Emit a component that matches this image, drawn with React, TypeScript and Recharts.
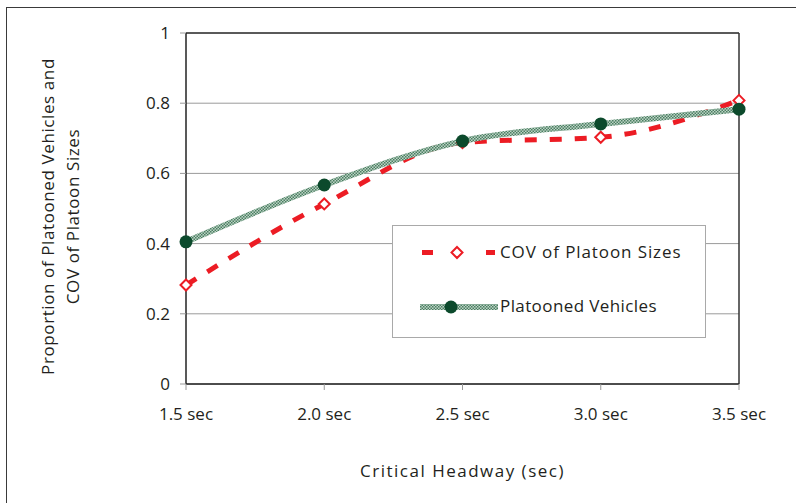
import React from "react"
import {
  LineChart,
  Line,
  XAxis,
  YAxis,
  CartesianGrid,
  Legend,
  ReferenceLine,
} from "recharts"

const headways = ["1.5 sec", "2.0 sec", "2.5 sec", "3.0 sec", "3.5 sec"]
const covPlatoonSizes = [0.282, 0.513, 0.688, 0.703, 0.808]
const platoonedVehicles = [0.405, 0.567, 0.692, 0.741, 0.783]
const yTicks = [0, 0.2, 0.4, 0.6, 0.8, 1]

const font = "'Open Sans', 'Noto Sans', sans-serif"
const textColor = "#231f20"
const red = "#ec1c24"
const darkGreen = "#0c4a2c"

const data = headways.map((h, i) => ({
  x: h,
  cov: covPlatoonSizes[i],
  platooned: platoonedVehicles[i],
}))

// hollow red diamond marker
const Diamond = (props: any) => {
  const { cx, cy } = props
  if (cx == null || cy == null) return null
  const s = 5.5
  return (
    <path
      d={`M${cx},${cy - s} L${cx + s},${cy} L${cx},${cy + s} L${cx - s},${cy} Z`}
      fill="#fff"
      stroke={red}
      strokeWidth={2}
    />
  )
}

const GreenDot = (props: any) => {
  const { cx, cy } = props
  if (cx == null || cy == null) return null
  return <circle cx={cx} cy={cy} r={6.5} fill={darkGreen} />
}

const HatchPattern = ({ id }: { id: string }) => (
  <pattern id={id} width="3" height="3" patternUnits="userSpaceOnUse">
    <rect width="3" height="3" fill="#bcd2c4" />
    <rect width="1.5" height="1.5" fill="#4a7f62" />
    <rect x="1.5" y="1.5" width="1.5" height="1.5" fill="#4a7f62" />
  </pattern>
)

const LegendBox = () => (
  <div
    style={{
      width: 314,
      height: 113,
      boxSizing: "border-box",
      border: "1px solid #a9a9a9",
      background: "#fff",
      fontFamily: font,
      fontSize: 17,
      color: textColor,
      position: "relative",
    }}
  >
    <svg width={80} height={20} style={{ position: "absolute", left: 27, top: 17 }}>
      <rect x={2} y={7} width={11} height={5} fill={red} />
      <path d="M37,4 L42.5,9.5 L37,15 L31.5,9.5 Z" fill="#fff" stroke={red} strokeWidth={2} />
      <rect x={66} y={7} width={9} height={5} fill={red} />
    </svg>
    <span style={{ position: "absolute", left: 107, top: 14, letterSpacing: 0.9 }}>
      COV of Platoon Sizes
    </span>
    <svg width={80} height={20} style={{ position: "absolute", left: 27, top: 71 }}>
      <defs>
        <HatchPattern id="hatchLegend" />
      </defs>
      <rect x={0} y={7} width={78} height={6} fill="url(#hatchLegend)" />
      <circle cx={31} cy={10} r={6.5} fill={darkGreen} />
    </svg>
    <span style={{ position: "absolute", left: 107, top: 68, letterSpacing: 0.4 }}>
      Platooned Vehicles
    </span>
  </div>
)

const YTitle = (props: any) => {
  const vb = props.viewBox
  const cy = vb.y + vb.height / 2 + 8
  return (
    <g fontFamily={font} fontSize={17} fill={textColor} textAnchor="middle" letterSpacing={0.6}>
      <text x={54} y={cy} transform={`rotate(-90, 54, ${cy})`}>
        Proportion of Platooned Vehicles and
      </text>
      <text x={79} y={cy} transform={`rotate(-90, 79, ${cy})`}>
        COV of Platoon Sizes
      </text>
    </g>
  )
}

const XTitle = (props: any) => {
  const vb = props.viewBox
  return (
    <text
      x={vb.x + vb.width / 2}
      y={477}
      fontFamily={font}
      fontSize={17}
      fill={textColor}
      textAnchor="middle"
      letterSpacing={1.5}
    >
      Critical Headway (sec)
    </text>
  )
}

export default function App() {
  return (
    <div style={{ position: "fixed", left: 0, top: 0, width: 796, height: 503, background: "#fff" }}>
      <div
        style={{
          position: "absolute",
          left: 6,
          top: 7,
          width: 800,
          height: 500,
          borderTop: "1.5px solid #3a3a3a",
          borderLeft: "1.5px solid #3a3a3a",
        }}
      />
      <LineChart
        width={796}
        height={503}
        data={data}
        margin={{ top: 33, right: 57, bottom: 89, left: 0 }}
        style={{ position: "absolute", left: 0, top: 0 }}
      >
        <defs>
          <HatchPattern id="hatch" />
        </defs>
        <CartesianGrid vertical={false} stroke="#9a9a9a" strokeWidth={1} />
        <XAxis
          dataKey="x"
          height={30}
          axisLine={{ stroke: "#222", strokeWidth: 1.5 }}
          tickLine={{ stroke: "#999" }}
          tickSize={6}
          tickMargin={18}
          tick={{ fontFamily: font, fontSize: 17, fill: textColor }}
          label={<XTitle />}
        />
        <YAxis
          width={186}
          domain={[0, 1]}
          ticks={yTicks}
          interval={0}
          axisLine={{ stroke: "#222", strokeWidth: 1.5 }}
          tickLine={{ stroke: "#999" }}
          tickSize={6}
          tickMargin={10}
          tick={{ fontFamily: font, fontSize: 17, fill: textColor }}
          label={<YTitle />}
        />
        <ReferenceLine y={1} stroke="#333" strokeWidth={1.5} />
        <ReferenceLine x="3.5 sec" stroke="#333" strokeWidth={1.5} />
        <Line
          dataKey="cov"
          type="monotone"
          stroke={red}
          strokeWidth={5}
          strokeDasharray="12 13"
          dot={<Diamond />}
          activeDot={false}
          isAnimationActive={false}
          legendType="none"
        />
        <Line
          dataKey="platooned"
          type="monotone"
          stroke="url(#hatch)"
          strokeWidth={6}
          dot={<GreenDot />}
          activeDot={false}
          isAnimationActive={false}
          legendType="none"
        />
        <Legend
          layout="vertical"
          align="center"
          verticalAlign="middle"
          content={<LegendBox />}
          wrapperStyle={{ left: 392, top: 225, width: 314, height: 113 }}
        />
      </LineChart>
    </div>
  )
}
